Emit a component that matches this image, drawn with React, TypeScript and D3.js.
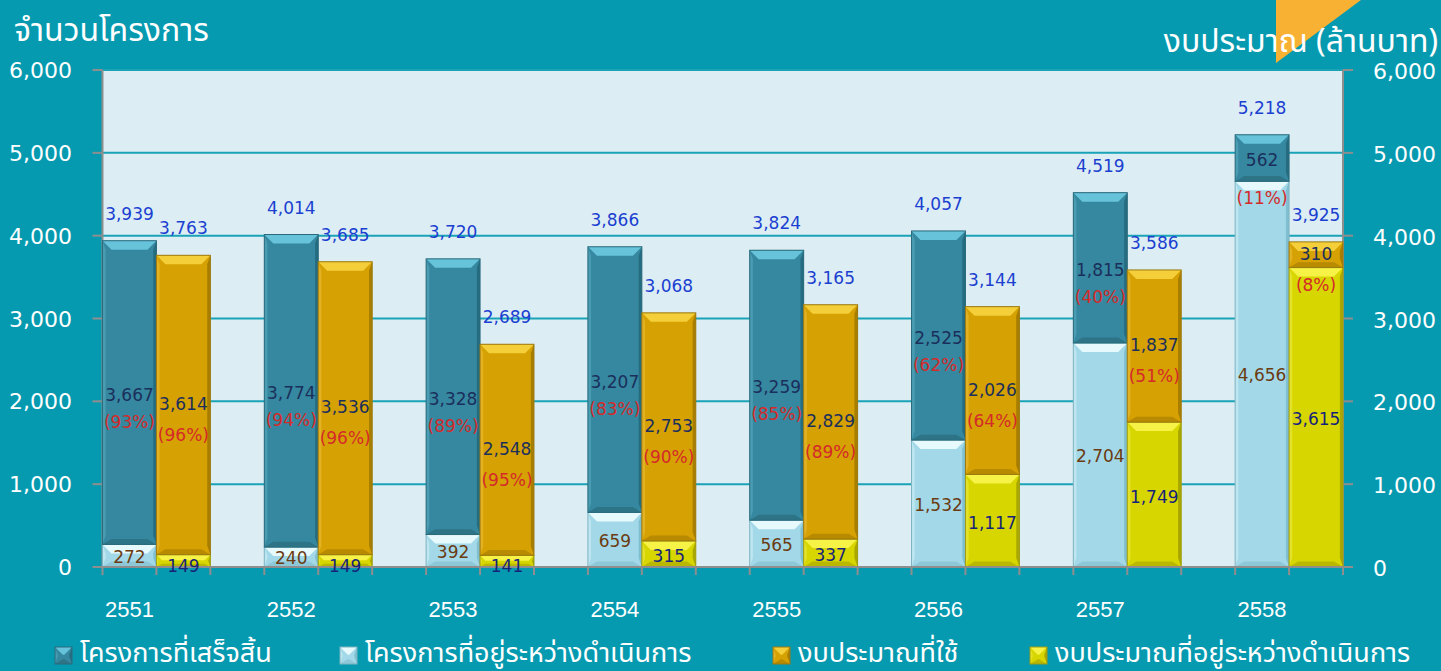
import React from "react";
import * as d3 from "d3";

const years = ["2551", "2552", "2553", "2554", "2555", "2556", "2557", "2558"];
const projDone = [3667, 3774, 3328, 3207, 3259, 2525, 1815, 562];
const projDonePct = ["93%", "94%", "89%", "83%", "85%", "62%", "40%", "11%"];
const projOngoing = [272, 240, 392, 659, 565, 1532, 2704, 4656];
const projTotal = [3939, 4014, 3720, 3866, 3824, 4057, 4519, 5218];
const budgetUsed = [3614, 3536, 2548, 2753, 2829, 2026, 1837, 310];
const budgetUsedPct = ["96%", "96%", "95%", "90%", "89%", "64%", "51%", "8%"];
const budgetOngoing = [149, 149, 141, 315, 337, 1117, 1749, 3615];
const budgetTotal = [3763, 3685, 2689, 3068, 3165, 3144, 3586, 3925];
const yTicks = [0, 1000, 2000, 3000, 4000, 5000, 6000];

const W = 1441;
const H = 671;
const plotL = 102.5;
const plotR = 1343;
const plotT = 70;
const plotB = 567;

const BG = "#069AB0";
const PLOT_BG = "#DCEEF4";
const GRID = "#1AA2B7";
const AXIS = "#8E8E8E";

const THAI = "'Noto Sans Thai', 'Noto Sans Thai UI', 'Noto Sans', 'DejaVu Sans', sans-serif";
const NUM = "'DejaVu Sans', Verdana, sans-serif";

type Pal = { main: string; top: string; left: string; right: string; bottom: string; stroke: string };
const palDone: Pal = { main: "#35889F", top: "#66C3DA", left: "#4A9CB2", right: "#256C80", bottom: "#2E7487", stroke: "#2A6A7C" };
const palOngoing: Pal = { main: "#A2D8E7", top: "#E6FAFD", left: "#BDE6F0", right: "#7FBFD0", bottom: "#8DC8D8", stroke: "#7FB3C2" };
const palUsed: Pal = { main: "#D6A102", top: "#F4CF3A", left: "#E2B224", right: "#A87E00", bottom: "#B88A00", stroke: "#9C7A10" };
const palBOngoing: Pal = { main: "#D8D600", top: "#F6F246", left: "#E4E12A", right: "#AAA800", bottom: "#BAB700", stroke: "#9E9C10" };

function BevelRect({ x, y, w, h, pal }: { x: number; y: number; w: number; h: number; pal: Pal }) {
  const b = Math.min(9, h / 2.2);
  const x2 = x + w;
  const y2 = y + h;
  const pts = (a: number[][]) => a.map((p) => p.join(",")).join(" ");
  return (
    <g>
      <rect x={x} y={y} width={w} height={h} fill={pal.main} />
      <polygon points={pts([[x, y], [x2, y], [x2 - b, y + b], [x + b, y + b]])} fill={pal.top} />
      <polygon points={pts([[x, y], [x + b * 0.35, y + b], [x + b * 0.35, y2 - b], [x, y2]])} fill={pal.left} />
      <polygon points={pts([[x2, y], [x2 - b * 0.35, y + b], [x2 - b * 0.35, y2 - b], [x2, y2]])} fill={pal.right} />
      <polygon points={pts([[x, y2], [x2, y2], [x2 - b, y2 - b * 0.6], [x + b, y2 - b * 0.6]])} fill={pal.bottom} />
      <rect x={x} y={y} width={w} height={h} fill="none" stroke={pal.stroke} strokeWidth={1} />
    </g>
  );
}

export default function App() {
  const yScale = d3.scaleLinear().domain([0, 6000]).range([plotB, plotT]);
  const slot = (plotR - plotL) / 23;
  const xScale = d3
    .scaleBand<string>()
    .domain(years)
    .range([plotL, plotL + slot * 24])
    .paddingInner(0)
    .paddingOuter(0);
  const bw = slot;

  const xTicks: number[] = [];
  years.forEach((yr) => {
    const x0 = xScale(yr)!;
    xTicks.push(x0, x0 + bw, x0 + 2 * bw);
  });

  const fmt = d3.format(",");

  return (
    <div style={{ position: "fixed", left: 0, top: 0, width: W, height: H }}>
      <svg width={W} height={H} style={{ display: "block" }}>
        <rect x={0} y={0} width={W} height={H} fill={BG} />
        <polygon points="1276,0 1361,0 1276,63" fill="#F8B133" />

        <text x={14} y={41} fill="#fff" fontSize={32} fontFamily={THAI}>
          จำนวนโครงการ
        </text>
        <text x={1438} y={52} fill="#fff" fontSize={32} fontFamily={THAI} textAnchor="end">
          งบประมาณ (ล้านบาท)
        </text>

        <rect x={plotL} y={plotT} width={plotR - plotL} height={plotB - plotT} fill={PLOT_BG} />
        {yTicks.slice(1).map((t) => (
          <line key={"g" + t} x1={plotL} x2={plotR} y1={yScale(t)} y2={yScale(t)} stroke={GRID} strokeWidth={2} />
        ))}

        {/* axes */}
        <line x1={plotL} x2={plotL} y1={plotT} y2={plotB} stroke={AXIS} strokeWidth={2} />
        <line x1={plotR} x2={plotR} y1={plotT} y2={plotB} stroke={AXIS} strokeWidth={2} />
        {yTicks.map((t) => (
          <g key={"yt" + t}>
            <line x1={plotL - 10} x2={plotL} y1={yScale(t)} y2={yScale(t)} stroke={AXIS} strokeWidth={2} />
            <line x1={plotR} x2={plotR + 10} y1={yScale(t)} y2={yScale(t)} stroke={AXIS} strokeWidth={2} />
            <text x={72} y={yScale(t) + 2} fill="#fff" fontSize={22} fontFamily={NUM} textAnchor="end" dominantBaseline="middle">
              {fmt(t)}
            </text>
            <text x={1373} y={yScale(t) + 3} fill="#fff" fontSize={22} fontFamily={NUM} textAnchor="start" dominantBaseline="middle">
              {fmt(t)}
            </text>
          </g>
        ))}

        {/* bars */}
        {years.map((yr, i) => {
          const x0 = xScale(yr)!;
          const x1 = x0 + bw;
          const yOn = yScale(projOngoing[i]);
          const yPT = yScale(projOngoing[i] + projDone[i]);
          const yBO = yScale(budgetOngoing[i]);
          const yBT = yScale(budgetOngoing[i] + budgetUsed[i]);
          return (
            <g key={"b" + yr}>
              <BevelRect x={x0} y={yOn} w={bw} h={plotB - yOn} pal={palOngoing} />
              <BevelRect x={x0} y={yPT} w={bw} h={yOn - yPT} pal={palDone} />
              <BevelRect x={x1} y={yBO} w={bw} h={plotB - yBO} pal={palBOngoing} />
              <BevelRect x={x1} y={yBT} w={bw} h={yBO - yBT} pal={palUsed} />
            </g>
          );
        })}

        {/* x axis */}
        <line x1={plotL} x2={plotR} y1={plotB} y2={plotB} stroke={AXIS} strokeWidth={2} />
        {xTicks.map((x, k) => (
          <line key={"xt" + k} x1={x} x2={x} y1={plotB} y2={plotB + 8} stroke={AXIS} strokeWidth={2} />
        ))}
        {years.map((yr) => (
          <text
            key={"xl" + yr}
            x={xScale(yr)! + bw / 2}
            y={611}
            fill="#fff"
            fontSize={22}
            fontFamily="'Liberation Sans', Arial, sans-serif"
            textAnchor="middle"
            dominantBaseline="middle"
          >
            {yr}
          </text>
        ))}

        {/* labels */}
        {years.map((yr, i) => {
          const x0 = xScale(yr)!;
          const cx0 = x0 + bw / 2;
          const cx1 = x0 + bw * 1.5;
          const yOn = yScale(projOngoing[i]);
          const yPT = yScale(projOngoing[i] + projDone[i]);
          const yBO = yScale(budgetOngoing[i]);
          const yBT = yScale(budgetOngoing[i] + budgetUsed[i]);
          const midDone = (yOn + yPT) / 2;
          const midUsed = (yBO + yBT) / 2;
          const pctDoneY = yOn - yPT < 60 ? yOn + 18 : midDone + 30;
          const pctUsedY = yBO - yBT < 60 ? yBO + 18 : midUsed + 31;
          const hOn = plotB - yOn;
          const hBO = plotB - yBO;
          const onY = (plotB + yOn) / 2 + 2;
          const boY = hBO < 20 ? 567 : (plotB + yBO) / 2 + 3;
          const common = { fontSize: 17, fontFamily: NUM, textAnchor: "middle" as const, dominantBaseline: "middle" as const };
          return (
            <g key={"l" + yr}>
              <text x={cx0} y={yPT - 26} fill="#1B3FD0" {...common}>{fmt(projTotal[i])}</text>
              <text x={cx1} y={yBT - 26} fill="#1B3FD0" {...common}>{fmt(budgetTotal[i])}</text>
              <text x={cx0} y={midDone + 3} fill="#1B2F5C" {...common}>{fmt(projDone[i])}</text>
              <text x={cx0} y={pctDoneY} fill="#D42A2A" {...common}>({projDonePct[i]})</text>
              <text x={cx1} y={midUsed} fill="#1B2F5C" {...common}>{fmt(budgetUsed[i])}</text>
              <text x={cx1} y={pctUsedY} fill="#D42A2A" {...common}>({budgetUsedPct[i]})</text>
              <text x={cx0} y={hOn < 20 ? 559 : onY} fill="#6B3B12" {...common}>{fmt(projOngoing[i])}</text>
              <text x={cx1} y={boY} fill="#16237A" {...common}>{fmt(budgetOngoing[i])}</text>
            </g>
          );
        })}

        {/* legend */}
        {[
          { x: 55, pal: palDone, label: "โครงการที่เสร็จสิ้น" },
          { x: 340, pal: palOngoing, label: "โครงการที่อยู่ระหว่างดำเนินการ" },
          { x: 773, pal: palUsed, label: "งบประมาณที่ใช้" },
          { x: 1030, pal: palBOngoing, label: "งบประมาณที่อยู่ระหว่างดำเนินการ" },
        ].map((d) => (
          <g key={d.label}>
            <BevelRect x={d.x} y={647} w={17} h={17} pal={d.pal} />
            <text x={d.x + 25} y={662} fill="#fff" fontSize={27} fontFamily={THAI}>
              {d.label}
            </text>
          </g>
        ))}
      </svg>
    </div>
  );
}
